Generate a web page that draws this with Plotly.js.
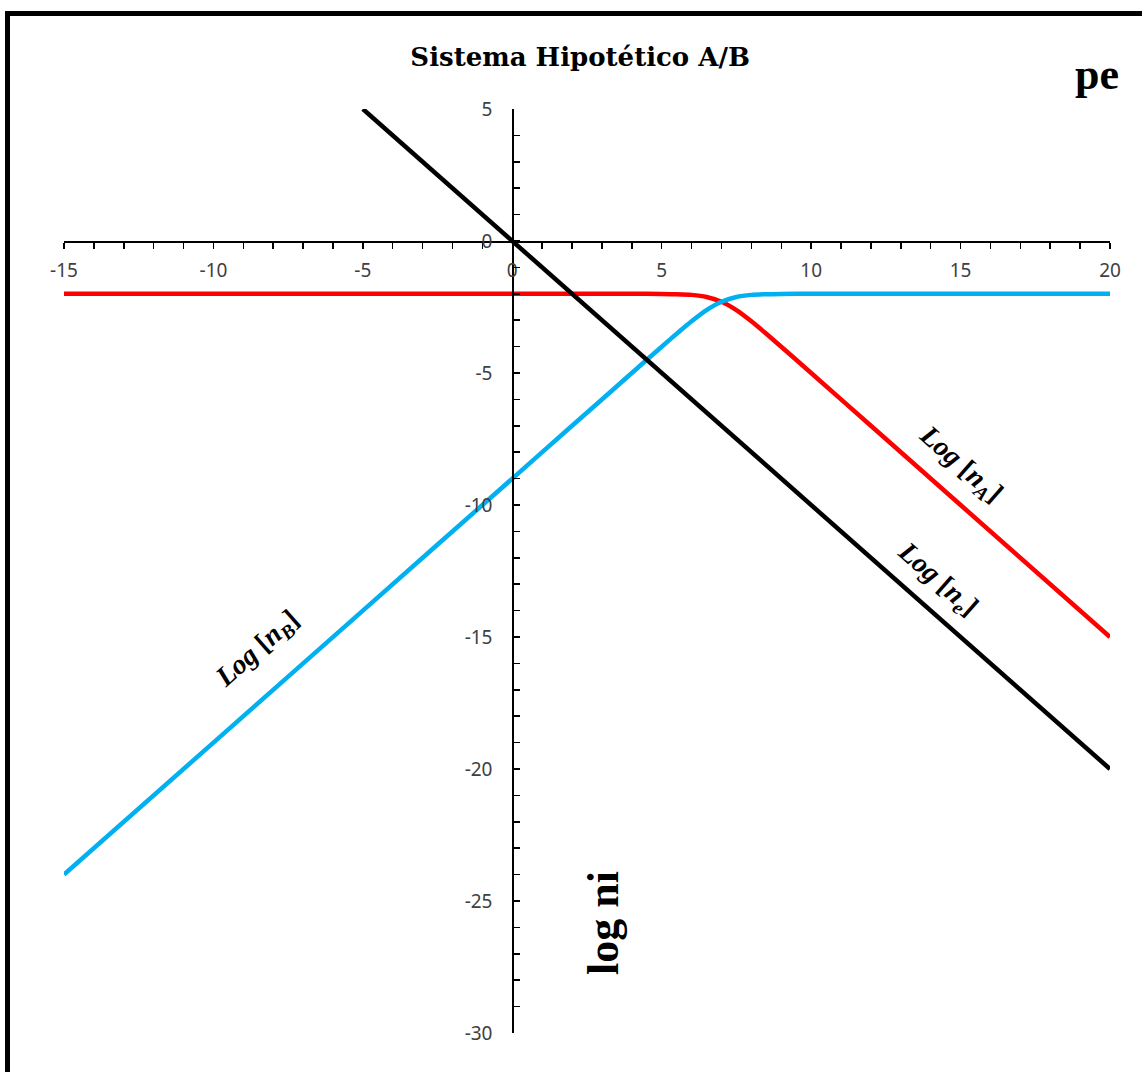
<!DOCTYPE html>
<html>
<head>
<meta charset="utf-8">
<script src="https://cdn.plot.ly/plotly-3.0.1.min.js"></script>
<style>
  html, body { margin: 0; padding: 0; background: #fff; }
  #chart { width: 1142px; height: 1072px; }
  #frame { position: absolute; left: 5px; top: 11px; width: 1200px; height: 1200px;
           border-left: 5px solid #000; border-top: 5px solid #000; pointer-events: none; }
</style>
</head>
<body>
<div id="chart"></div>
<div id="frame"></div>
<script>
// pe values (x) and log concentrations
const peAB = [-15, -10, -5, 0, 2, 4, 5, 5.5, 6, 6.5, 7, 7.5, 8, 8.5, 9, 10, 12, 15, 20];
const logNA = [-2, -2, -2, -2, -2, -2, -2.004, -2.014, -2.041, -2.119, -2.301, -2.619, -3.041, -3.513, -4.004, -5.0, -7.0, -10.0, -15.0];
const logNB = [-24, -19, -14, -9, -7, -5.0, -4.004, -3.513, -3.041, -2.619, -2.301, -2.119, -2.041, -2.014, -2.004, -2, -2, -2, -2];
const peE = [-5, 20];
const logNE = [5, -20];

// tick values and labels
const xTickVals = [-15, -10, -5, 0, 5, 10, 15, 20];
const xTickText = ['-15', '-10', '-5', '0', '5', '10', '15', '20'];
const yTickVals = [5, 0, -5, -10, -15, -20, -25, -30];
const yTickText = ['5', '0', '-5', '-10', '-15', '-20', '-25', '-30'];

const chartTitle = 'Sistema Hipotético A/B';
const xLabel = 'pe';
const yLabel = 'log ni';

const traces = [
  { x: peAB, y: logNA, mode: 'lines', name: 'Log [nA]',
    line: { color: '#FF0000', width: 4.5, shape: 'spline', smoothing: 0.6 } },
  { x: peAB, y: logNB, mode: 'lines', name: 'Log [nB]',
    line: { color: '#00B0F0', width: 4.5, shape: 'spline', smoothing: 0.6 } },
  { x: peE, y: logNE, mode: 'lines', name: 'Log [ne]',
    line: { color: '#000000', width: 4.5 } }
];

const tickFont = { family: 'Noto Sans, Liberation Sans, sans-serif', size: 19, color: '#404040' };
const labFont = { family: 'Liberation Serif, serif', size: 28, color: '#000' };

const layout = {
  width: 1142, height: 1072,
  margin: { l: 64, r: 32, t: 109, b: 39 },
  paper_bgcolor: '#fff', plot_bgcolor: '#fff',
  showlegend: false,
  title: { text: '<b>' + chartTitle + '</b>', x: 0.508, xref: 'container', xanchor: 'center',
           y: 0.947, yref: 'container', yanchor: 'middle',
           font: { family: 'DejaVu Serif, serif', size: 26, color: '#000' } },
  xaxis: {
    range: [-15, 20], anchor: 'free', position: 30 / 35,
    showgrid: false, zeroline: false,
    showline: true, linecolor: '#000', linewidth: 1.5,
    ticks: 'outside', ticklen: 6, tickwidth: 1.5, tickcolor: '#000',
    tickmode: 'array', tickvals: xTickVals, ticktext: xTickText,
    minor: { dtick: 1, tick0: 0, ticks: 'outside', ticklen: 6, tickwidth: 1.5, tickcolor: '#000', showgrid: false },
    tickfont: tickFont, ticklabelstandoff: 6
  },
  yaxis: {
    range: [-30, 5], anchor: 'free', position: 15 / 35,
    showgrid: false, zeroline: false,
    showline: true, linecolor: '#000', linewidth: 1.5,
    ticks: 'inside', ticklen: 6, tickwidth: 1.5, tickcolor: '#000',
    tickmode: 'array', tickvals: yTickVals, ticktext: yTickText,
    minor: { dtick: 1, tick0: 0, ticks: 'inside', ticklen: 6, tickwidth: 1.5, tickcolor: '#000', showgrid: false },
    tickfont: tickFont, ticklabelstandoff: 16
  },
  annotations: [
    { xref: 'paper', yref: 'paper', x: 0.9876, y: 1.037, xanchor: 'center', yanchor: 'middle',
      text: '<b>' + xLabel + '</b>', showarrow: false,
      font: { family: 'Liberation Serif, serif', size: 44, color: '#000' } },
    { xref: 'paper', yref: 'paper', x: 0.5153, y: 0.119, xanchor: 'center', yanchor: 'middle',
      text: '<b>' + yLabel + '</b>', showarrow: false, textangle: -90,
      font: { family: 'Liberation Serif, serif', size: 44, color: '#000' } },
    { x: 14.97, y: -8.48, text: '<b><i>Log</i> [<i>n</i><sub><i>A</i></sub>]</b>', showarrow: false,
      textangle: 41.4, font: labFont },
    { x: 14.2, y: -12.84, text: '<b><i>Log</i> [<i>n</i><sub><i>e</i></sub>]</b>', showarrow: false,
      textangle: 41.4, font: labFont },
    { x: -8.51, y: -15.49, text: '<b><i>Log</i> [<i>n</i><sub><i>B</i></sub>]</b>', showarrow: false,
      textangle: -41.4, font: labFont }
  ]
};

Plotly.newPlot('chart', traces, layout, { displayModeBar: false, staticPlot: true });
</script>
</body>
</html>
